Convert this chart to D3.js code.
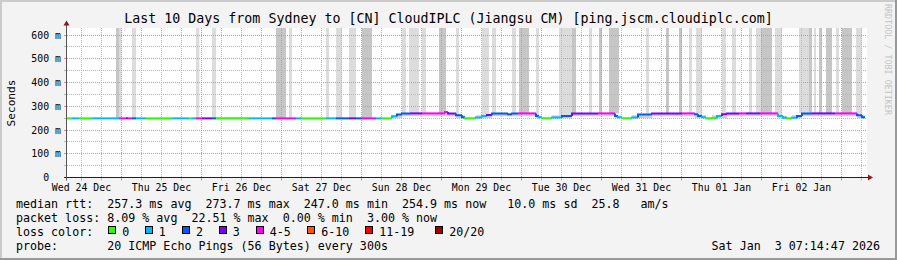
<!DOCTYPE html>
<html><head><meta charset="utf-8">
<script src="https://cdn.jsdelivr.net/npm/d3@7"></script>
<style>
html,body{margin:0;padding:0;background:#f3f3f3;}
svg{display:block;}
text{font-family:"DejaVu Sans Mono",monospace;white-space:pre;fill:#000;}
</style></head><body>
<svg id="c" width="897" height="260"></svg>
<script>
// ---------- data ----------
const title = "Last 10 Days from Sydney to [CN] CloudIPLC (Jiangsu CM) [ping.jscm.cloudiplc.com]";
const startTime = Date.UTC(2025, 11, 24, 7, 40);   // graph start (UTC)
const spanHours = 240;
const dayLabels = ["Wed 24 Dec","Thu 25 Dec","Fri 26 Dec","Sat 27 Dec","Sun 28 Dec",
                   "Mon 29 Dec","Tue 30 Dec","Wed 31 Dec","Thu 01 Jan","Fri 02 Jan"];
const yTicks = [0,100,200,300,400,500,600];            // ms
const yTickLabels = ["0","100 m","200 m","300 m","400 m","500 m","600 m"];
const yMinor = [50,150,250,350,450,550];
const lossNames = ["0","1","2","3","4-5","6-10","11-19","20/20"];
const lossColors = ["#26ff00","#00b8ff","#0059ff","#7e00ff","#ff00ff","#ff5500","#ff0000","#a10000"];
// median rtt segments: [fromHour, toHour, ms, lossIndex]
const medianSegs = [
[0,1.5,249,0],[1.5,3.6,249,1],[3.6,7.5,249,0],[7.5,15.6,249,1],[15.6,17.7,249,4],[17.7,18.3,249,3],[18.3,19.5,249,4],
[19.5,20.7,249,2],[20.7,23.7,249,1],[23.7,31.5,249,0],[31.5,36.6,249,1],[36.6,37.5,249,0],[37.5,38.7,249,1],
[38.7,40.5,249,4],[40.5,43.5,249,3],[43.5,44.7,249,2],[44.7,54.6,249,0],[54.6,61.5,249,1],[61.5,62.7,249,2],
[62.7,68.7,249,4],[68.7,70.5,249,1],[70.5,77.7,249,0],[77.7,80.7,249,1],[80.7,84.6,249,2],[84.6,86.7,249,3],
[86.7,88.5,249,2],[88.5,92.7,249,4],[92.7,94.5,249,1],[94.5,97.5,249,0],
[97.5,99,258,1],[99,100.5,265,2],[100.5,102.9,270,2],[102.9,106.5,270,3],[106.5,113.4,270,4],[113.4,114.3,276,4],
[114.3,116.7,270,3],[116.7,118.5,262,2],[118.5,119.4,254,2],[119.4,122.7,249,0],[122.7,124.5,253,1],[124.5,126,259,1],
[126,127.5,263,3],[127.5,132.3,270,2],[132.3,133.5,266,2],[133.5,135.3,270,2],[135.3,140.7,270,4],[140.7,141.6,259,2],
[141.6,142.5,254,1],[142.5,145.5,249,0],[145.5,148.5,253,1],[148.5,151.5,259,2],[151.5,159.3,270,3],[159.3,164.4,270,4],
[164.4,165.3,259,2],[165.3,166.5,254,1],[166.5,169.5,249,0],[169.5,171.3,253,1],[171.3,175.5,265,2],[175.5,184.5,270,3],
[184.5,188.4,270,4],[188.4,189.3,266,2],[189.3,190.5,259,2],[190.5,191.7,254,1],[191.7,193.5,249,0],[193.5,195,251,0],
[195,196.5,259,1],[196.5,198,266,3],[198,201.6,270,3],[201.6,203.7,270,4],[203.7,207.9,270,3],[207.9,213.3,270,4],
[213.3,214.8,259,1],[214.8,216,252,1],[216,217.5,249,0],[217.5,219,252,1],[219,220.5,259,2],[220.5,223.5,270,2],
[223.5,230.4,270,3],[230.4,237,270,4],[237,238.5,262,2],[238.5,239.4,254,2]
];
// smoke bands reaching the top: [fromHour, toHour, density 1|2]
const smokeBands = [
[14.7,15.6,2],[15.6,16.35,1],[19.5,20.7,1],[38.7,39.7,1],[43.5,44.7,1],[62.7,65.7,2],[66.6,67.5,1],[77.7,78.6,1],
[80.7,82.5,1],[84.6,86.7,1],[88.5,91.5,2],[100.5,101.7,1],[102.6,105.6,1],[106.5,107.7,1],[111.6,113.7,2],[116.7,117.6,1],
[124.5,126.6,1],[127.5,128.7,1],[133.5,134.7,1],[135.6,138.6,2],[140.7,141.6,1],[147.6,151.5,1],[151.5,152.7,2],
[156.6,157.5,1],[159.6,160.5,2],[162.6,165.6,2],[173.7,174.6,1],[179.7,180.6,2],[183.6,184.5,2],[186.6,187.5,1],
[188.7,190.5,1],[196.5,197.7,1],[199.5,200.7,1],[204.6,205.5,1],[206.7,208.2,1],[208.2,211.5,2],[212.4,214.5,1],
[219.6,222.6,1],[222.6,223.5,2],[224.1,224.7,1],[225.6,226.5,2],[227.7,229.5,2],[230.7,231.6,1],[232.5,235.5,2],[236.7,238.5,1]
];
// smoke close to the median: [fromHour, toHour, loMs, hiMs]
const smokeNear = [
[97.5,100.5,250,262],[100.5,116.7,258,268],[116.7,119.4,250,262],[122.7,127.5,250,262],[127.5,140.7,258,268],
[140.7,142.5,250,260],[145.5,151.5,250,262],[151.5,164.4,258,268],[164.4,166.5,250,260],[169.5,175.5,250,262],
[175.5,188.4,258,268],[188.4,191.7,250,262],[193.5,198,250,262],[198,213.3,258,268],[213.3,216,250,260],
[217.5,220.5,250,262],[220.5,237,258,268],[237,239.4,250,262]
];
const statsLines = [
"median rtt:  257.3 ms avg  273.7 ms max  247.0 ms min  254.9 ms now   10.0 ms sd  25.8   am/s",
"packet loss: 8.09 % avg  22.51 % max  0.00 % min  3.00 % now",
"loss color:",
"probe:       20 ICMP Echo Pings (56 Bytes) every 300s"
];
const stamp = "Sat Jan  3 07:14:47 2026";
const yAxisTitle = "Seconds";
const watermark = "RRDTOOL / TOBI OETIKER";

// ---------- layout ----------
const W = 897, H = 260;
const PL = 67, PR = 867, PT = 28, PB = 177.5;
const legendBoxX = [108.3,144.7,182,218.7,255.7,307.3,365.3,435.3];
const svg = d3.select("#c");
const hour = 3600e3;
const x = d3.scaleUtc().domain([new Date(startTime), new Date(startTime + spanHours*hour)]).range([PL, PR]);
const y = d3.scaleLinear().domain([0, 631.6]).range([PB, PT - 0.5]);
const xh = h => x(new Date(startTime + h*hour));
const crisp = v => Math.floor(v) + 0.5;

// background + 3D border
svg.append("rect").attr("width", W).attr("height", H).attr("fill", "#f3f3f3");
svg.append("path").attr("d", `M1,${H} V1 H${W}`).attr("stroke", "#cbcbcb").attr("stroke-width", 2).attr("fill", "none");
svg.append("path").attr("d", `M0,${H-1} H${W-1} V0`).attr("stroke", "#999").attr("stroke-width", 2).attr("fill", "none");

// canvas
svg.append("rect").attr("x", PL).attr("y", PT).attr("width", PR - PL).attr("height", 150).attr("fill", "#fff");

// value of median at hour
function medAt(h) {
  const s = medianSegs.find(d => h >= d[0] && h < d[1]);
  return s ? s[2] : 249;
}
// smoke bands
svg.append("g").selectAll("rect").data(smokeBands).join("rect")
  .attr("x", d => xh(d[0])).attr("width", d => xh(d[1]) - xh(d[0]))
  .attr("y", PT).attr("height", d => y(medAt((d[0]+d[1])/2)) - PT)
  .attr("fill", d => d[2] === 2 ? "#c6c6c6" : "#dcdcdc");
// smoke near median
svg.append("g").selectAll("rect").data(smokeNear).join("rect")
  .attr("x", d => xh(d[0])).attr("width", d => xh(d[1]) - xh(d[0]))
  .attr("y", d => y(d[3])).attr("height", d => y(d[2]) - y(d[3]))
  .attr("fill", "#cfcfcf");

// grid
const grid = svg.append("g").attr("fill", "none").attr("stroke-width", 1);
const minorCol = "#b8b8b8", majorCol = "#e58c8c";
yMinor.forEach(v => {
  const yy = crisp(y(v));
  grid.append("line").attr("x1", PL).attr("x2", PR).attr("y1", yy).attr("y2", yy).attr("stroke", minorCol).attr("stroke-dasharray", "1,1");
  grid.append("line").attr("x1", PL - 3).attr("x2", PL).attr("y1", yy).attr("y2", yy).attr("stroke", minorCol);
});
yTicks.slice(1).forEach(v => {
  const yy = crisp(y(v));
  grid.append("line").attr("x1", PL).attr("x2", PR).attr("y1", yy).attr("y2", yy).attr("stroke", majorCol).attr("stroke-dasharray", "1,1");
  grid.append("line").attr("x1", PL - 3).attr("x2", PL).attr("y1", yy).attr("y2", yy).attr("stroke", majorCol);
});
const sixHours = d3.utcHour.every(6).range(x.domain()[0], x.domain()[1]);
sixHours.forEach(t => {
  const xx = crisp(x(t));
  if (xx <= PL) return;
  const col = t.getUTCHours() === 0 ? majorCol : minorCol;
  grid.append("line").attr("x1", xx).attr("x2", xx).attr("y1", PT).attr("y2", PB).attr("stroke", col).attr("stroke-dasharray", "1,1");
  grid.append("line").attr("x1", xx).attr("x2", xx).attr("y1", PB).attr("y2", PB + 3).attr("stroke", col);
});

// median line
const line = d3.line();
const lg = svg.append("g").attr("fill", "none").attr("stroke-width", 2);
medianSegs.forEach((s, i) => {
  const prev = i > 0 ? medianSegs[i-1][2] : s[2];
  lg.append("path")
    .attr("d", line([[xh(s[0]), y(prev)], [xh(s[0]), y(s[2])], [xh(s[1]), y(s[2])]]))
    .attr("stroke", lossColors[s[3]]);
});

// axes
const axisY = crisp(PB);
svg.append("line").attr("x1", PL - 3).attr("x2", PR + 3).attr("y1", axisY).attr("y2", axisY).attr("stroke", "#222");
svg.append("line").attr("x1", 66.5).attr("x2", 66.5).attr("y1", PB + 3).attr("y2", 24).attr("stroke", "#555");
svg.append("path").attr("d", `M${PR+1},${axisY-3} L${PR+6},${axisY} L${PR+1},${axisY+3} Z`).attr("fill", "#8b1a1a");
svg.append("path").attr("d", `M63.5,25.5 L66.5,20.5 L69.5,25.5 Z`).attr("fill", "#8b1a1a");

// y tick labels
const axisFont = 9.85, charAx = axisFont * 0.602;
svg.append("g").selectAll("text").data(yTicks).join("text")
  .attr("x", (d, i) => yTickLabels[i].indexOf(" ") < 0 ? 61 - 2*charAx : 61)
  .attr("y", d => crisp(y(d)) + 3.5)
  .attr("text-anchor", "end").attr("font-size", axisFont)
  .text((d, i) => yTickLabels[i]);

// x tick labels (centred on noon of each day)
svg.append("g").selectAll("text").data(dayLabels).join("text")
  .attr("x", (d, i) => x(new Date(Date.UTC(2025, 11, 24 + i, 12))))
  .attr("y", 191).attr("text-anchor", "middle").attr("font-size", axisFont)
  .text(d => d);

// title
svg.append("text").attr("x", W/2).attr("y", 23).attr("text-anchor", "middle").attr("font-size", 13.3).text(title);

// y axis title
svg.append("text").attr("transform", "translate(15,103) rotate(-90)").attr("text-anchor", "middle")
  .attr("font-size", 11.1).text(yAxisTitle);

// watermark
svg.append("text").attr("transform", "translate(884.5,59.5) rotate(90)").attr("text-anchor", "middle")
  .attr("font-size", 8.4).style("fill", "#c4c4c4").text(watermark);

// stats legend
const legFont = 11.66;
statsLines.forEach((s, i) => {
  svg.append("text").attr("x", 16).attr("y", 207.5 + i*14).attr("font-size", legFont)
    .attr("xml:space", "preserve").text(s);
});
const lr = svg.append("g");
lossNames.forEach((n, i) => {
  lr.append("rect").attr("x", Math.round(legendBoxX[i]) + 0.5).attr("y", 226.5).attr("width", 7).attr("height", 7)
    .attr("fill", lossColors[i]).attr("stroke", "#000").attr("stroke-width", 1);
  lr.append("text").attr("x", legendBoxX[i] + 14).attr("y", 235.5).attr("font-size", legFont).text(n);
});
svg.append("text").attr("x", 880).attr("y", 249.5).attr("text-anchor", "end").attr("font-size", legFont)
  .attr("xml:space", "preserve").text(stamp);
</script>
</body></html>
